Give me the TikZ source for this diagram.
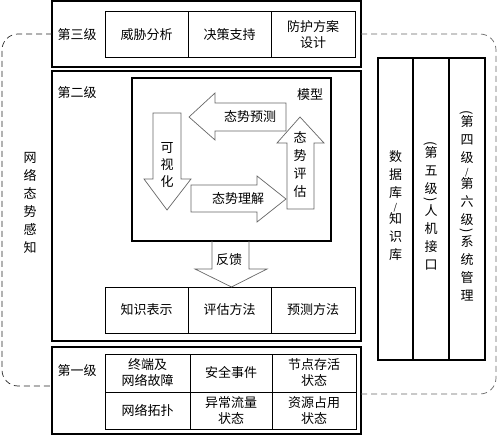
\documentclass[tikz,border=0pt]{standalone}
\usepackage{fontspec}
\usepackage{graphicx}
\setmainfont{Noto Sans CJK SC}
\usetikzlibrary{calc}
\newcommand\vparL{\rotatebox[origin=c]{-90}{(}}
\newcommand\vparR{\rotatebox[origin=c]{-90}{)}}
\newcommand\vsl{{\fontsize{9}{9}\selectfont /}}
\begin{document}
\begin{tikzpicture}[x=1pt,y=-1pt,
  box/.style={draw, line width=1.1pt, inner sep=0pt, outer sep=0pt},
  cell/.style={draw, line width=1pt, inner sep=0pt, outer sep=0pt, align=center, font=\fontsize{13}{16}\selectfont},
  lbl/.style={inner sep=0pt, font=\fontsize{13}{16}\selectfont},
  vlbl/.style={inner sep=0pt, align=center, font=\fontsize{13}{18}\selectfont},
  fat/.style={draw=black!60, line width=0.7pt, fill=white},
  frame/.style={draw=black!60, dash pattern=on 6pt off 4pt, line width=0.7pt, rounded corners=16pt}
]
\useasboundingbox (0,0) rectangle (497,435);

% level boxes
\node[box, minimum width=309pt, minimum height=66pt] (L3) at (206.5,34) {};
\node[box, minimum width=309pt, minimum height=270pt] (L2) at (206.5,206) {};
\node[box, minimum width=309pt, minimum height=87pt] (L1) at (206.5,390.5) {};

\node[lbl] (t3) at (77,35) {第三级};
\node[lbl] (t2) at (77,93) {第二级};
\node[lbl] (t1) at (77,371) {第一级};

% level 3 cells
\node[cell, minimum width=83pt, minimum height=46pt] (c31) at (146.5,35) {威胁分析};
\node[cell, minimum width=83pt, minimum height=46pt] (c32) at (229.5,35) {决策支持};
\node[cell, minimum width=84pt, minimum height=46pt] (c33) at (313,35) {防护方案\\设计};

% model
\node[box, minimum width=199pt, minimum height=163pt] (M) at (231.5,159.5) {};
\node[lbl] (tm) at (310,95) {模型};

% block arrows
\draw[fat] (286,103) -- (215,103) -- (215,93) -- (189,117) -- (215,140) -- (215,131) -- (286,131) -- cycle;
\draw[fat] (153,113) -- (181,113) -- (181,179) -- (191,179) -- (167,210) -- (144,179) -- (153,179) -- cycle;
\draw[fat] (191,185) -- (257,185) -- (257,176) -- (286,199) -- (257,222) -- (257,212) -- (191,212) -- cycle;
\draw[fat] (287,209) -- (287,143) -- (277,143) -- (300,117) -- (324,143) -- (314,143) -- (314,209) -- cycle;

\node[lbl] (tpred) at (250,117) {态势预测};
\node[vlbl, font=\fontsize{13}{17}\selectfont] (tvis) at (167,165) {可\\视\\化};
\node[lbl] (tund) at (238,199) {态势理解};
\node[vlbl] (teval) at (300,165) {态\\势\\评\\估};

% level 2 bottom cells
\node[cell, minimum width=83pt, minimum height=46pt] (c21) at (146.5,310) {知识表示};
\node[cell, minimum width=83pt, minimum height=46pt] (c22) at (229.5,310) {评估方法};
\node[cell, minimum width=84pt, minimum height=46pt] (c23) at (313,310) {预测方法};

% feedback arrow
\draw[draw=black!60, line width=0.7pt]
  ($(M.south)+(-19.5,0)$) -- ++(0,28) -- ++(-17,0) -- (M.south |- c22.north) -- ($(M.south)+(35.5,28)$) -- ++(-18,0) -- ++(0,-28);
\node[lbl] (tfb) at (229,260) {反馈};

% level 1 cells
\node[cell, minimum width=85pt, minimum height=38pt] (c11) at (147.5,373) {终端及\\网络故障};
\node[cell, minimum width=82pt, minimum height=38pt] (c12) at (231,373) {安全事件};
\node[cell, minimum width=84pt, minimum height=38pt] (c13) at (314,373) {节点存活\\状态};
\node[cell, minimum width=85pt, minimum height=37pt] (c14) at (147.5,410.5) {网络拓扑};
\node[cell, minimum width=82pt, minimum height=37pt] (c15) at (231,410.5) {异常流量\\状态};
\node[cell, minimum width=84pt, minimum height=37pt] (c16) at (314,410.5) {资源占用\\状态};

% right column
\node[box, minimum width=35pt, minimum height=302pt] (r1) at (395.5,209) {};
\node[box, minimum width=36pt, minimum height=302pt] (r2) at (431,209) {};
\node[box, minimum width=36pt, minimum height=302pt] (r3) at (467,209) {};
\node[vlbl] (tr1) at (395.5,206) {数\\据\\库\\[-5pt]\vsl\\[-5pt]知\\识\\库};
\node[vlbl] (tr2) at (431,206) {\vparL\\[-8pt]第\\五\\级\\[-8pt]\vparR\\[-6pt]人\\机\\接\\口};
\node[vlbl] (tr3) at (467,206) {\vparL\\[-8pt]第\\四\\级\\[-5pt]\vsl\\[-5pt]第\\六\\级\\[-8pt]\vparR\\[-6pt]系\\统\\管\\理};

% perception frame
\node[vlbl] (tnet) at (30,202.5) {网\\络\\态\\势\\感\\知};
\draw[frame, draw=black!85] (L3.west) -- (2,34) -- (2,386) -- ($(L1.west)+(0,-4.5)$);
\draw[frame] (L3.east) -- (496,34) -- (496,394) -- ($(L1.east)+(0,3.5)$);
\end{tikzpicture}
\end{document}
